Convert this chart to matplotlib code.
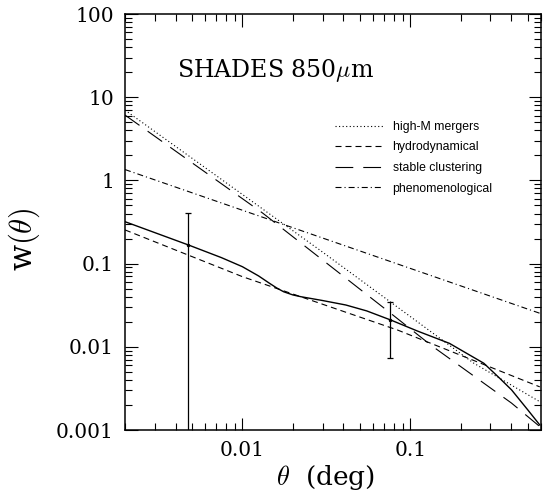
import matplotlib
matplotlib.use('Agg')
import matplotlib.pyplot as plt
import matplotlib.ticker as ticker

plt.rcParams['font.family'] = 'DejaVu Serif'
plt.rcParams['mathtext.fontset'] = 'cm'

# dados (theta em graus, w(theta))
theta_obs = [0.00477, 0.0757]
w_obs = [0.1675, 0.021]
w_sup = [0.402, 0.0343]
w_inf = [1e-5, 0.00726]

theta_mergers = [0.002, 0.0289, 0.238, 0.59]
w_mergers = [7.0, 0.1455, 0.00638, 0.00219]

theta_hidro = [0.002, 0.01, 0.084, 0.59]
w_hidro = [0.254, 0.0697, 0.0159, 0.0033]

theta_estavel = [0.002, 0.0132, 0.076, 0.134, 0.40, 0.59]
w_estavel = [6.1, 0.405, 0.0255, 0.0103, 0.00211, 0.0011]

theta_fenom = [0.002, 0.59]
w_fenom = [1.35, 0.0253]

theta_total = [0.002, 0.00477, 0.0075, 0.01, 0.0125, 0.0145, 0.016, 0.0176, 0.02, 0.0223,
               0.03, 0.0413, 0.055, 0.0764, 0.11, 0.171, 0.274, 0.34, 0.401, 0.5, 0.59]
w_total = [0.319, 0.1675, 0.118, 0.0918, 0.071, 0.058, 0.051, 0.0459, 0.042, 0.040,
           0.036, 0.0318, 0.027, 0.021, 0.0155, 0.011, 0.00634, 0.0042, 0.00303, 0.00175, 0.00115]

fig = plt.figure(figsize=(5.43, 4.95), dpi=100)
ax = fig.add_axes([125/543, 1-430/495, 416/543, 416/495])

lw = 0.8
l1, = ax.plot(theta_mergers, w_mergers, color='k', lw=lw, dashes=(1, 2.2))
l2, = ax.plot(theta_hidro, w_hidro, color='k', lw=lw, dashes=(5.4, 3.6))
l3, = ax.plot(theta_estavel, w_estavel, color='k', lw=lw, dashes=(16, 9))
l4, = ax.plot(theta_fenom, w_fenom, color='k', lw=lw, dashes=(5.4, 2.7, 1, 2.7))
ax.plot(theta_total, w_total, color='k', lw=1.0)

erro_inf = [w_obs[i] - w_inf[i] for i in range(len(w_obs))]
erro_sup = [w_sup[i] - w_obs[i] for i in range(len(w_obs))]
ax.errorbar(theta_obs, w_obs, yerr=[erro_inf, erro_sup], fmt='o', ms=1.5,
            color='k', elinewidth=0.9, capsize=2.5, capthick=0.9)

ax.set_xscale('log')
ax.set_yscale('log')
ax.set_xlim(0.002, 0.6)
ax.set_ylim(0.001, 100)

fmt = ticker.FuncFormatter(lambda v, p: '%g' % v)
ax.xaxis.set_major_formatter(fmt)
ax.yaxis.set_major_formatter(fmt)
ax.xaxis.set_minor_formatter(ticker.NullFormatter())
ax.yaxis.set_minor_formatter(ticker.NullFormatter())
ax.tick_params(which='both', direction='in', top=True, right=True, width=0.8)
ax.tick_params(which='major', length=9, pad=8, labelsize=14.5)
ax.tick_params(which='minor', length=4.8)
for s in ax.spines.values():
    s.set_linewidth(1.1)

ax.set_xlabel(r'$\theta$  (deg)', fontsize=19)
ax.set_ylabel(r'w$(\theta)$', fontsize=22)
ax.xaxis.set_label_coords(0.483, -0.08)
ax.yaxis.set_label_coords(-0.2, 0.457)

ax.text(0.125, 0.865, r'SHADES 850$\mu$m', transform=ax.transAxes,
        fontsize=17, va='center', ha='left')

leg = ax.legend([l1, l2, l3, l4],
                ['high-M mergers', 'hydrodynamical', 'stable clustering', 'phenomenological'],
                loc='upper left', bbox_to_anchor=(0.505, 0.743), frameon=False,
                prop={'family': 'Liberation Sans', 'size': 8.8},
                handlelength=3.9, handletextpad=0.8, labelspacing=0.7,
                borderpad=0, borderaxespad=0)

plt.savefig('out.png', dpi=100)
